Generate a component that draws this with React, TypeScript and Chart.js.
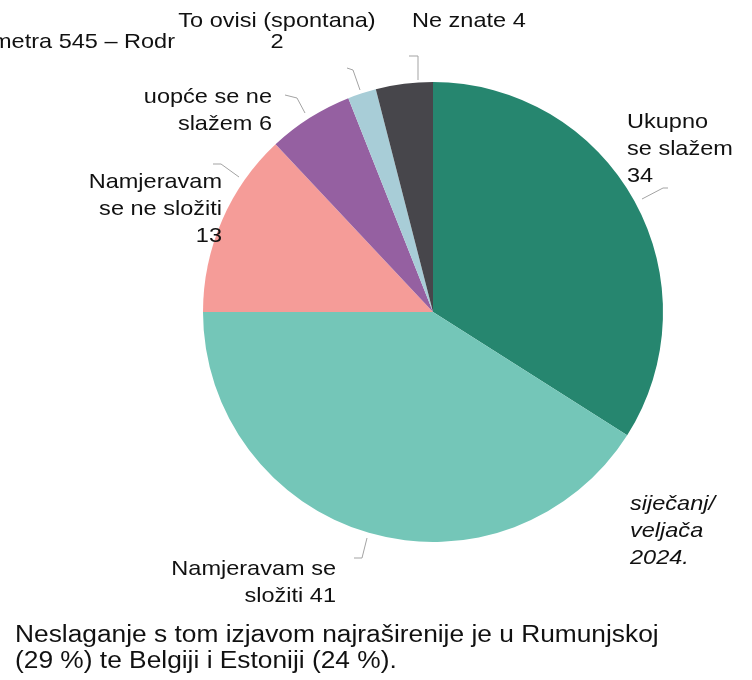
import React, { useEffect, useRef } from "react";
import { Chart, registerables } from "chart.js";

Chart.register(...registerables);

// ---- data ----
const categories = [
  "Ukupno se slažem",
  "Namjeravam se složiti",
  "Namjeravam se ne složiti",
  "uopće se ne slažem",
  "To ovisi (spontana)",
  "Ne znate",
];
const values = [34, 41, 13, 6, 2, 4];
const colors = ["#26866f", "#74c6b8", "#f59c98", "#9560a1", "#a8cdd7", "#47464b"];
// how many words of "category + value" go on each label line
const lineWordCounts = [[1, 2, 1], [2, 2], [1, 3, 1], [3, 2], [3, 1], [3]];
const periodLines = ["siječanj/", "veljača", "2024."];
const noteLines = [
  "Neslaganje s tom izjavom najraširenije je u Rumunjskoj",
  "(29 %) te Belgiji i Estoniji (24 %).",
];
const clippedText = "metra 545 – Rodr";

// ---- layout (canvas px) ----
const FONT = "'Liberation Sans', Arial, sans-serif";
const SX = 1.12; // horizontal stretch of the source text
const LABEL_LAYOUT = [
  { x: 627, y: 128, align: "left", lh: 27 },
  { x: 336, y: 575, align: "right", lh: 27 },
  { x: 222, y: 188, align: "right", lh: 27 },
  { x: 272, y: 103, align: "right", lh: 27 },
  { x: 277, y: 27, align: "center", lh: 21 },
  { x: 412, y: 27, align: "left", lh: 27 },
];
// leader polylines relative to pie centre, for a radius of 230
const LEADERS = [
  [[209, -113], [230, -124], [235, -124]],
  [[-66, 226], [-71, 246], [-79, 246]],
  [[-194, -135], [-212, -148], [-220, -148]],
  [[-128, -199], [-136, -214], [-148, -217]],
  [[-73, -222], [-80, -242], [-86, -244]],
  [[-15, -232], [-15, -256], [-24, -256]],
];

function labelLines(i: number): string[] {
  const words = (categories[i] + " " + values[i]).split(" ");
  const out: string[] = [];
  let k = 0;
  for (const n of lineWordCounts[i]) {
    out.push(words.slice(k, k + n).join(" "));
    k += n;
  }
  return out;
}

function drawText(ctx: CanvasRenderingContext2D, text: string, x: number, y: number, align: CanvasTextAlign) {
  ctx.save();
  ctx.translate(x, y);
  ctx.scale(SX, 1);
  ctx.textAlign = align;
  ctx.textBaseline = "alphabetic";
  ctx.fillText(text, 0, 0);
  ctx.restore();
}

const labelPlugin = {
  id: "docLabels",
  afterDraw(chart: any) {
    const ctx: CanvasRenderingContext2D = chart.ctx;
    const arc = chart.getDatasetMeta(0).data[0];
    const cx = arc.x;
    const cy = arc.y;
    const k = arc.outerRadius / 230;

    // leader lines
    ctx.save();
    ctx.strokeStyle = "#a3a3a3";
    ctx.lineWidth = 1;
    LEADERS.forEach((pts) => {
      ctx.beginPath();
      pts.forEach(([dx, dy], j) => {
        const px = cx + dx * k;
        const py = cy + dy * k;
        if (j === 0) ctx.moveTo(px, py);
        else ctx.lineTo(px, py);
      });
      ctx.stroke();
    });
    ctx.restore();

    ctx.save();
    ctx.fillStyle = "#111111";
    ctx.font = `21px ${FONT}`;
    LABEL_LAYOUT.forEach((l, i) => {
      labelLines(i).forEach((t, j) => {
        drawText(ctx, t, l.x, l.y + j * l.lh, l.align as CanvasTextAlign);
      });
    });

    // partly hidden line at the top left
    drawText(ctx, clippedText, -8, 48, "left");

    // period note
    ctx.font = `italic 21px ${FONT}`;
    periodLines.forEach((t, j) => drawText(ctx, t, 630, 510 + j * 27, "left"));

    // paragraph below the chart
    ctx.font = `23.5px ${FONT}`;
    noteLines.forEach((t, j) => drawText(ctx, t, 15, 642 + j * 26, "left"));
    ctx.restore();
  },
};

export default function App() {
  const ref = useRef<HTMLCanvasElement | null>(null);
  useEffect(() => {
    if (!ref.current) return;
    const chart = new Chart(ref.current, {
      type: "pie",
      data: {
        labels: categories,
        datasets: [
          {
            data: values,
            backgroundColor: colors,
            borderWidth: 0,
            hoverOffset: 0,
          },
        ],
      },
      options: {
        responsive: false,
        animation: false,
        devicePixelRatio: 1,
        events: [],
        layout: { padding: { left: 203, right: 89, top: 82, bottom: 138 } },
        plugins: {
          legend: { display: false },
          tooltip: { enabled: false },
        },
      },
      plugins: [labelPlugin],
    } as any);
    return () => chart.destroy();
  }, []);
  return (
    <div style={{ position: "absolute", left: 0, top: 0, width: 752, height: 680, background: "#fff" }}>
      <canvas ref={ref} width={752} height={680} style={{ display: "block" }} />
    </div>
  );
}
